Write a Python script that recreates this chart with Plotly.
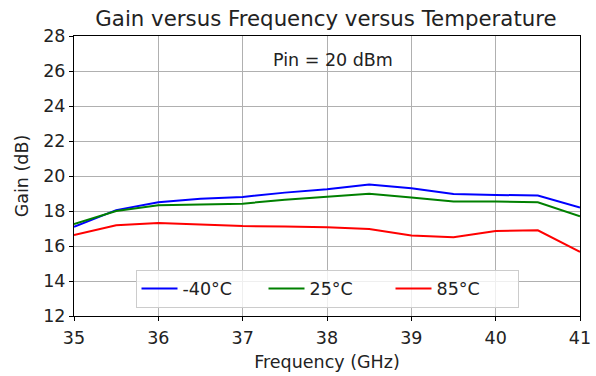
import plotly.graph_objects as go

# Frequency sweep (GHz) and measured gain (dB) at three temperatures
freq_ghz = [35, 35.5, 36, 36.5, 37, 37.5, 38, 38.5, 39, 39.5, 40, 40.5, 41]
gain_m40 = [17.1, 18.05, 18.5, 18.7, 18.8, 19.05, 19.25, 19.52, 19.3, 18.97, 18.92, 18.88, 18.2]
gain_25 = [17.25, 18.0, 18.33, 18.38, 18.42, 18.64, 18.8, 18.98, 18.77, 18.55, 18.54, 18.5, 17.7]
gain_85 = [16.62, 17.18, 17.32, 17.24, 17.14, 17.12, 17.07, 16.97, 16.6, 16.5, 16.86, 16.9, 15.66]

series_names = ["-40°C", "25°C", "85°C"]
series_colors = ["#0000ff", "#008000", "#ff0000"]

x_ticks = [35, 36, 37, 38, 39, 40, 41]
y_ticks = [12, 14, 16, 18, 20, 22, 24, 26, 28]

font_family = "DejaVu Sans"
base_size = 17.5

fig = go.Figure()
for name, color, ys in zip(series_names, series_colors, [gain_m40, gain_25, gain_85]):
    fig.add_trace(go.Scatter(
        x=freq_ghz, y=ys, mode="lines", name=name,
        line=dict(color=color, width=2),
    ))

axis_common = dict(
    showline=True, linecolor="black", linewidth=1, mirror=True,
    showgrid=True, gridcolor="#b0b0b0", gridwidth=1,
    ticks="outside", ticklen=4, tickcolor="black",
    tickfont=dict(size=base_size, color="#222222", family=font_family),
    zeroline=False, automargin=False,
)

fig.update_layout(
    width=596, height=376,
    margin=dict(l=74, r=16, t=36, b=60),
    paper_bgcolor="white", plot_bgcolor="white",
    font=dict(family=font_family, color="#222222"),
    title=dict(
        text="Gain versus Frequency versus Temperature",
        x=0.547, xanchor="center", y=0.952, yanchor="middle",
        font=dict(size=21.3, color="#222222"),
    ),
    xaxis=dict(
        range=[35, 41], tickvals=x_ticks, ticklabelstandoff=2,
        title=dict(text="Frequency (GHz)", font=dict(size=base_size), standoff=8),
        **axis_common,
    ),
    yaxis=dict(
        range=[12, 28], tickvals=y_ticks, ticklabelstandoff=0,
        title=dict(text="Gain (dB)", font=dict(size=base_size), standoff=10),
        **axis_common,
    ),
    legend=dict(
        orientation="h", x=0.5, xanchor="center", y=0.03, yanchor="bottom",
        bgcolor="rgba(255,255,255,0.8)", bordercolor="#cccccc", borderwidth=1,
        font=dict(size=base_size, color="#222222"),
        itemwidth=36, entrywidthmode="pixels", entrywidth=76,
        tracegroupgap=0,
    ),
    annotations=[dict(
        text="Pin = 20 dBm", xref="paper", yref="paper",
        x=0.512, y=0.914, xanchor="center", yanchor="middle",
        showarrow=False, font=dict(size=base_size, color="#222222"),
    )],
)

fig.write_html("out.html")
